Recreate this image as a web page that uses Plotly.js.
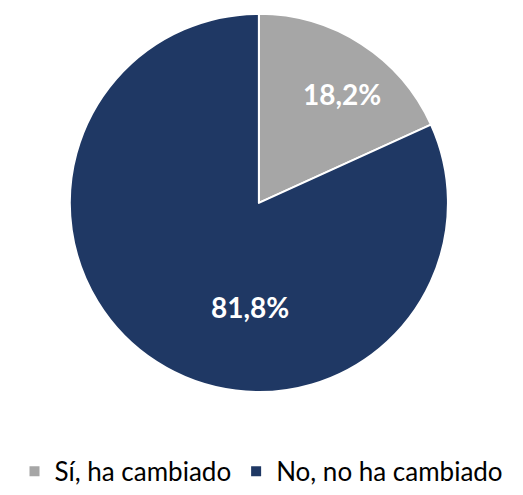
<!DOCTYPE html>
<html><head><meta charset="utf-8">
<script src="https://cdn.plot.ly/plotly-3.0.1.min.js"></script>
<style>html,body{margin:0;padding:0;background:#fff}</style>
</head><body>
<div id="chart" style="width:523px;height:495px"></div>
<script>
var categories = ["Sí, ha cambiado", "No, no ha cambiado"];
var values = [18.2, 81.8];
var valueLabels = ["18,2%", "81,8%"];
var colors = ["#a6a6a6", "#1f3864"];

var labelFont = {family: "Lato, 'Open Sans', sans-serif", size: 28, color: "#ffffff", weight: "bold"};
var labelPos = [[0.653, 0.808], [0.478, 0.374]];

var trace = {
  type: "pie",
  labels: categories,
  values: values,
  textinfo: "none",
  sort: false,
  direction: "clockwise",
  rotation: 0,
  marker: {colors: colors, line: {color: "#ffffff", width: 2}},
  domain: {x: [0.130, 0.860], y: [0.2, 0.9717]},
  hoverinfo: "none"
};

var annotations = valueLabels.map(function (t, i) {
  return {
    text: t, xref: "paper", yref: "paper",
    x: labelPos[i][0], y: labelPos[i][1],
    xanchor: "center", yanchor: "middle",
    showarrow: false, font: labelFont
  };
});

var layout = {
  width: 523, height: 495,
  margin: {l: 0, r: 0, t: 0, b: 0},
  paper_bgcolor: "#ffffff",
  showlegend: true,
  legend: {
    orientation: "h", x: 0.5, xanchor: "center", y: 0.038, yanchor: "middle",
    font: {family: "Lato, 'Open Sans', sans-serif", size: 26, color: "#000000"},
    itemwidth: 30, traceorder: "normal"
  },
  annotations: annotations
};

Plotly.newPlot("chart", [trace], layout, {displayModeBar: false, staticPlot: true});
</script>
</body></html>
